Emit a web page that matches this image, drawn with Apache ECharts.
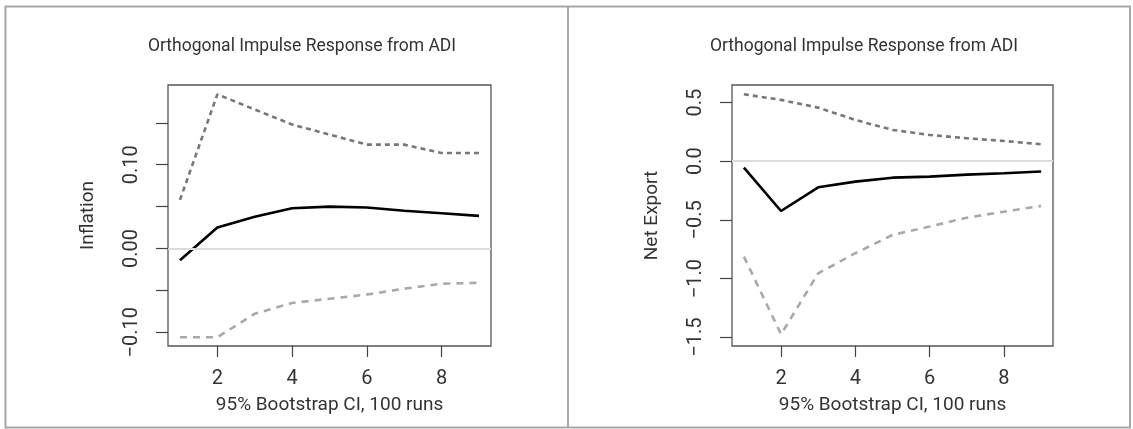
<!DOCTYPE html>
<html>
<head>
<meta charset="utf-8">
<script src="https://cdn.jsdelivr.net/npm/echarts@6/dist/echarts.min.js"></script>
<style>
html,body{margin:0;padding:0;background:#fff;}
#chart{width:1133px;height:429px;}
</style>
</head>
<body>
<div id="chart"></div>
<script>
// ---- data ----
var steps = [1, 2, 3, 4, 5, 6, 7, 8, 9];
var inflationResponse = [-0.014, 0.025, 0.038, 0.048, 0.050, 0.049, 0.045, 0.042, 0.039];
var inflationUpper    = [0.058, 0.184, 0.166, 0.148, 0.136, 0.124, 0.124, 0.114, 0.114];
var inflationLower    = [-0.106, -0.106, -0.078, -0.065, -0.060, -0.055, -0.048, -0.042, -0.041];
var netExportResponse = [-0.054, -0.424, -0.222, -0.174, -0.140, -0.131, -0.114, -0.102, -0.088];
var netExportUpper    = [0.571, 0.523, 0.457, 0.352, 0.267, 0.224, 0.196, 0.173, 0.145];
var netExportLower    = [-0.813, -1.475, -0.955, -0.784, -0.628, -0.557, -0.481, -0.430, -0.381];
var xTicks = [2, 4, 6, 8];
var inflationTicks = [-0.10, -0.05, 0.00, 0.05, 0.10, 0.15];
var inflationTickLabels = [-0.10, 0.00, 0.10];
var netExportTicks = [-1.5, -1.0, -0.5, 0.0, 0.5];
var chartTitle = 'Orthogonal Impulse Response from ADI';
var xTitle = '95% Bootstrap CI, 100 runs';
var yTitles = ['Inflation', 'Net Export'];

function pairs(ys){ return steps.map(function(x,i){ return [x, ys[i]]; }); }

var FONT = 'Roboto, "Liberation Sans", sans-serif';
var TXT = '#333';
var chart = echarts.init(document.getElementById('chart'), null, {renderer:'canvas'});

function xAxis(gi){
  return {
    type:'value', gridIndex:gi, min:0.68, max:9.32,
    name:xTitle, nameLocation:'middle', nameGap:50,
    nameTextStyle:{fontFamily:FONT, fontSize:19, color:TXT},
    axisLine:{show:false, onZero:false}, splitLine:{show:false},
    axisTick:{show:true, customValues:xTicks, length:11, lineStyle:{color:'#444', width:1.2}},
    axisLabel:{customValues:xTicks, fontFamily:FONT, fontSize:20, color:TXT, margin:23}
  };
}
function yAxis(gi, min, max, ticks, labels, fmt, title){
  return {
    type:'value', gridIndex:gi, min:min, max:max,
    name:title, nameLocation:'middle', nameGap:70, nameRotate:90,
    nameTextStyle:{fontFamily:FONT, fontSize:19, color:TXT},
    axisLine:{show:false, onZero:false}, splitLine:{show:false},
    axisTick:{show:true, customValues:ticks, length:12, lineStyle:{color:'#444', width:1.2}},
    axisLabel:{customValues:labels, rotate:90, fontFamily:FONT, fontSize:20, color:TXT, margin:26,
      formatter:function(v){ return fmt(v); }}
  };
}
function fmtInfl(v){ var s = Math.abs(v).toFixed(2); return (v < -1e-9 ? '\u2212' : '') + s; }
function fmtNet(v){ var s = Math.abs(v).toFixed(1); return (v < -1e-9 ? '\u2212' : '') + s; }

function seriesSet(gi, resp, up, lo){
  return [
    {type:'line', xAxisIndex:gi, yAxisIndex:gi, data:pairs(up), symbol:'none', silent:true,
     lineStyle:{color:'#777', width:2.6, type:[5,4]}, z:3},
    {type:'line', xAxisIndex:gi, yAxisIndex:gi, data:pairs(lo), symbol:'none', silent:true,
     lineStyle:{color:'#a9a9a9', width:2.6, type:[7,6]}, z:3},
    {type:'line', xAxisIndex:gi, yAxisIndex:gi, data:pairs(resp), symbol:'none', silent:true,
     lineStyle:{color:'#000', width:2.6}, z:4,
     markLine:{silent:true, symbol:'none', label:{show:false}, animation:false,
       lineStyle:{color:'#dcdcdc', width:2, type:'solid'}, data:[{yAxis:0}]}}
  ];
}

var option = {
  animation:false,
  backgroundColor:'#fff',
  grid:[
    {left:168, right:642, top:85, bottom:83, show:true, borderColor:'#555', borderWidth:1.3, backgroundColor:'transparent'},
    {left:732, right:80, top:85, bottom:83, show:true, borderColor:'#555', borderWidth:1.3, backgroundColor:'transparent'}
  ],
  xAxis:[xAxis(0), xAxis(1)],
  yAxis:[
    yAxis(0, -0.1164, 0.1952, inflationTicks, inflationTickLabels, fmtInfl, yTitles[0]),
    yAxis(1, -1.575, 0.650, netExportTicks, netExportTicks, fmtNet, yTitles[1])
  ],
  series: seriesSet(0, inflationResponse, inflationUpper, inflationLower)
          .concat(seriesSet(1, netExportResponse, netExportUpper, netExportLower)),
  graphic:[
    {type:'rect', shape:{x:5.5, y:6.5, width:1124.5, height:421}, style:{fill:null, stroke:'#a8a8a8', lineWidth:2}, silent:true},
    {type:'line', shape:{x1:568, y1:6.5, x2:568, y2:428}, style:{stroke:'#a8a8a8', lineWidth:2}, silent:true},
    {type:'text', x:302, y:47, style:{text:chartTitle, fontFamily:FONT, fontSize:17.5, fill:TXT, textAlign:'center', textVerticalAlign:'middle'}},
    {type:'text', x:864, y:47, style:{text:chartTitle, fontFamily:FONT, fontSize:17.5, fill:TXT, textAlign:'center', textVerticalAlign:'middle'}}
  ]
};
chart.setOption(option);
</script>
</body>
</html>
